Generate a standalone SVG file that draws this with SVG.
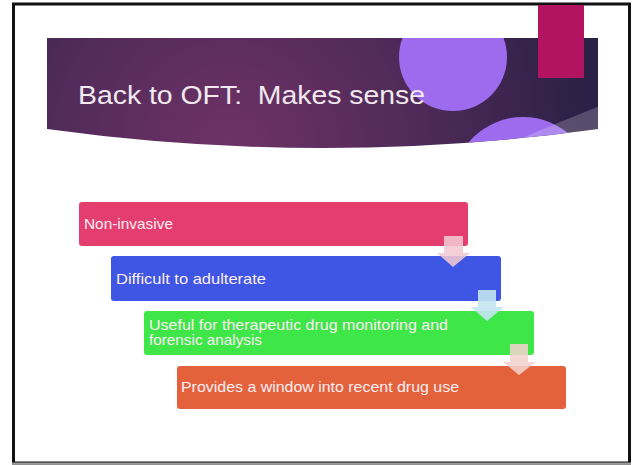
<svg xmlns="http://www.w3.org/2000/svg" width="634" height="465" viewBox="0 0 634 465">
  <style>
    .lbl { font-family: "Liberation Sans", "DejaVu Sans", sans-serif; font-size: 14.5px; fill: #fbeef3; }
    .title { font-family: "Liberation Sans", "DejaVu Sans", sans-serif; font-size: 26px; fill: #f1e9ee; white-space: pre; }
  </style>
  <defs>
    <radialGradient id="bannerGrad" cx="230" cy="150" r="360" gradientUnits="userSpaceOnUse">
      <stop offset="0" stop-color="#6f3266"/>
      <stop offset="0.55" stop-color="#4d2a58"/>
      <stop offset="1" stop-color="#2c2046"/>
    </radialGradient>
    <clipPath id="bannerClip">
      <path d="M47,38 H598 V129 Q322,167 47,129 Z"/>
    </clipPath>
  </defs>
  <rect x="0" y="0" width="634" height="465" fill="#ffffff"/>
  <!-- slide frame -->
  <rect x="13.5" y="4" width="616" height="459" fill="none" stroke="#111" stroke-width="3"/>
  <line x1="12" y1="463.5" x2="631" y2="463.5" stroke="#9a9a9a" stroke-width="2"/>

  <!-- banner -->
  <g id="banner">
    <path d="M47,38 H598 V129 Q322,167 47,129 Z" fill="url(#bannerGrad)"/>
    <g clip-path="url(#bannerClip)">
      <circle cx="453" cy="57" r="54" fill="#9d6cee"/>
      <circle cx="523" cy="188" r="71" fill="#9d6cee"/>
      <path d="M470,160 Q540,130 600,106 V170 H470 Z" fill="#ffffff" fill-opacity="0.2"/>
    </g>
    <rect x="538" y="5" width="46" height="73" fill="#b31462"/>
    <text class="title" x="78" y="104" xml:space="preserve" textLength="347" lengthAdjust="spacingAndGlyphs">Back to OFT:  Makes sense</text>
  </g>

  <!-- nodes -->
  <g id="node1">
    <rect x="79" y="202" width="389" height="44" rx="3" fill="#e33e6f"/>
    <text class="lbl" x="84" y="229" textLength="89" lengthAdjust="spacingAndGlyphs">Non-invasive</text>
  </g>
  <g id="node2">
    <rect x="111" y="256" width="390" height="45" rx="3" fill="#3f55e3"/>
    <text class="lbl" x="116" y="284" textLength="150" lengthAdjust="spacingAndGlyphs">Difficult to adulterate</text>
  </g>
  <g id="node3">
    <rect x="144" y="311" width="390" height="44" rx="3" fill="#3ee648"/>
    <text class="lbl" x="149" y="330" textLength="299" lengthAdjust="spacingAndGlyphs">Useful for therapeutic drug monitoring and</text>
    <text class="lbl" x="149" y="345" textLength="113" lengthAdjust="spacingAndGlyphs">forensic analysis</text>
  </g>
  <g id="node4">
    <rect x="177" y="366" width="389" height="43" rx="3" fill="#e3623c"/>
    <text class="lbl" x="181" y="392" textLength="278" lengthAdjust="spacingAndGlyphs">Provides a window into recent drug use</text>
  </g>

  <!-- connectors -->
  <g id="connectors">
    <path d="M444,236 H463 V253 H470 L453,267 L437,253 H444 Z" fill="#f3c8d4" fill-opacity="0.88"/>
    <path d="M478,290 H496 V307 H504 L487,321 L471,307 H478 Z" fill="#c4e6f1" fill-opacity="0.9"/>
    <path d="M510,344 H528 V362 H536 L519,375 L503,362 H510 Z" fill="#f1d3cd" fill-opacity="0.88"/>
  </g>
</svg>
